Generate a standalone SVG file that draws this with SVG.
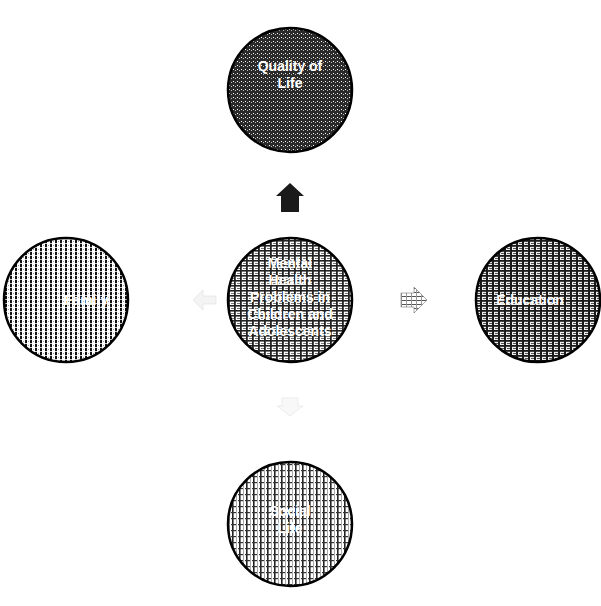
<svg xmlns="http://www.w3.org/2000/svg" width="601" height="606" viewBox="0 0 601 606">
<style>
.node circle{stroke:#000;stroke-width:2.5}
text{font-family:"Liberation Sans","DejaVu Sans",sans-serif;font-size:14px;fill:#fff;text-anchor:middle;font-weight:bold}
</style>
<defs>
<pattern id="pDark" width="4" height="4" patternUnits="userSpaceOnUse">
<rect width="4" height="4" fill="#2a2a2a"/><rect x="1" y="1" width="1" height="1" fill="#fff"/><rect x="3" y="2" width="1" height="1" fill="#bbb"/>
</pattern>
<pattern id="pGrid" width="6" height="5" patternUnits="userSpaceOnUse">
<rect width="6" height="5" fill="#fff"/><rect width="6" height="1.6" fill="#222"/><rect width="1.8" height="5" fill="#222"/><rect x="3" y="3" width="3" height="1" fill="#777"/>
</pattern>
<pattern id="pGrid2" width="6" height="5" patternUnits="userSpaceOnUse">
<rect width="6" height="5" fill="#eee"/><rect width="6" height="1.8" fill="#1a1a1a"/><rect width="2" height="5" fill="#1a1a1a"/><rect x="3" y="3" width="3" height="1" fill="#555"/>
</pattern>
<pattern id="pArrow" width="5" height="4" patternUnits="userSpaceOnUse">
<rect width="5" height="4" fill="#fff"/><rect width="5" height="1" fill="#555"/><rect x="1" width="1" height="4" fill="#999"/>
</pattern>
<pattern id="pVert" width="5" height="4" patternUnits="userSpaceOnUse">
<rect width="5" height="4" fill="#fff"/><rect x="0" width="2" height="3.2" fill="#111"/><rect x="3" y="1" width="1" height="1" fill="#999"/>
</pattern>
<pattern id="pLight" width="7" height="6" patternUnits="userSpaceOnUse">
<rect width="7" height="6" fill="#fff"/><rect x="1" width="1.6" height="6" fill="#222"/><rect x="0" y="2" width="5" height="1.2" fill="#333"/><rect x="5" y="0" width="1" height="6" fill="#aaa"/>
</pattern>
</defs>
<g id="connectors">
<path d="M290,183 L304,196 L299,196 L299,212 L281,212 L281,196 L276,196 Z" fill="#1a1a1a"/>
<path d="M193,300 L203,290 L203,296 L216,296 L216,304 L203,304 L203,310 Z" fill="#f4f4f4" stroke="#ddd" stroke-width="0.6"/>
<path d="M427,300 L414,287 L414,293 L401,293 L401,307 L414,307 L414,313 Z" fill="url(#pArrow)" stroke="#777" stroke-width="0.6"/>
<path d="M290,416 L303,406 L298,406 L298,398 L282,398 L282,406 L277,406 Z" fill="#f8f8f8" stroke="#e2e2e2" stroke-width="0.6"/>
</g>
<g id="quality" class="node"><circle cx="290" cy="90" r="62" fill="url(#pDark)"/><text x="290" y="71">Quality of</text><text x="290" y="88">Life</text></g>
<g id="family" class="node"><circle cx="66" cy="300" r="62" fill="url(#pVert)"/><text x="86" y="305">Family</text></g>
<g id="mental" class="node"><circle cx="290" cy="300" r="62" fill="url(#pGrid)"/><text x="290" y="268">Mental</text><text x="290" y="285">Health</text><text x="290" y="302">Problems in</text><text x="290" y="319">Children and</text><text x="290" y="336">Adolescents</text></g>
<g id="education" class="node"><circle cx="538" cy="300" r="62" fill="url(#pGrid2)"/><text x="530" y="305">Education</text></g>
<g id="social" class="node"><circle cx="290" cy="524" r="62" fill="url(#pLight)"/><text x="290" y="516">Social</text><text x="290" y="533">Life</text></g>
</svg>
